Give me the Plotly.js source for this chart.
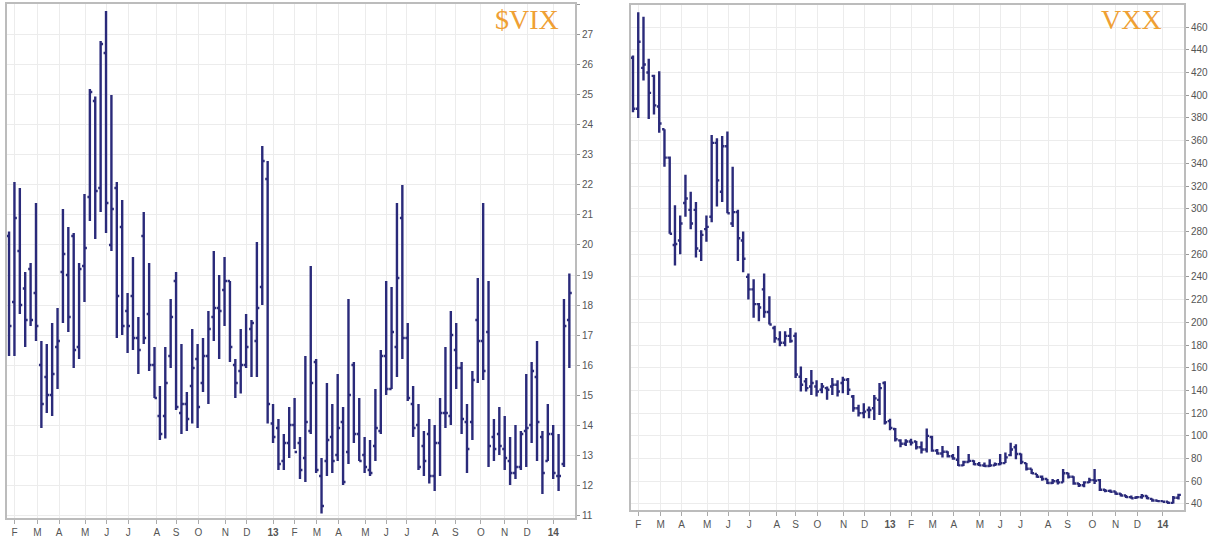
<!DOCTYPE html>
<html>
<head>
<meta charset="utf-8">
<script src="https://cdn.plot.ly/plotly-3.0.1.min.js"></script>
<style>
  html, body { margin: 0; padding: 0; background: #fff; }
  #chart { width: 1211px; height: 540px; }
</style>
</head>
<body>
<div id="chart"></div>
<script>
// Weekly bars (week ending Friday)
const weeks = [
  "2012-02-03","2012-02-10","2012-02-17","2012-02-24","2012-03-02","2012-03-09","2012-03-16","2012-03-23","2012-03-30",
  "2012-04-06","2012-04-13","2012-04-20","2012-04-27","2012-05-04","2012-05-11","2012-05-18","2012-05-25",
  "2012-06-01","2012-06-08","2012-06-15","2012-06-22","2012-06-29","2012-07-06","2012-07-13","2012-07-20","2012-07-27",
  "2012-08-03","2012-08-10","2012-08-17","2012-08-24","2012-08-31","2012-09-07","2012-09-14","2012-09-21","2012-09-28",
  "2012-10-05","2012-10-12","2012-10-19","2012-10-26","2012-11-02","2012-11-09","2012-11-16","2012-11-23","2012-11-30",
  "2012-12-07","2012-12-14","2012-12-21","2012-12-28",
  "2013-01-04","2013-01-11","2013-01-18","2013-01-25","2013-02-01","2013-02-08","2013-02-15","2013-02-22",
  "2013-03-01","2013-03-08","2013-03-15","2013-03-22","2013-03-29","2013-04-05","2013-04-12","2013-04-19","2013-04-26",
  "2013-05-03","2013-05-10","2013-05-17","2013-05-24","2013-05-31","2013-06-07","2013-06-14","2013-06-21","2013-06-28",
  "2013-07-05","2013-07-12","2013-07-19","2013-07-26","2013-08-02","2013-08-09","2013-08-16","2013-08-23","2013-08-30",
  "2013-09-06","2013-09-13","2013-09-20","2013-09-27","2013-10-04","2013-10-11","2013-10-18","2013-10-25",
  "2013-11-01","2013-11-08","2013-11-15","2013-11-22","2013-11-29","2013-12-06","2013-12-13","2013-12-20","2013-12-27",
  "2014-01-03","2014-01-10","2014-01-17","2014-01-24","2014-01-31"
];

// $VIX weekly OHLC
const vixOpen = [20.3,18.1,19.8,18.55,19.2,18.4,16.0,15.6,15.0,16.6,
  19.1,19.0,20.3,16.6,19.3,21.6,24.8,21.9,26.4,20.0,
  21.9,20.6,17.8,18.3,16.9,20.3,17.7,16.0,14.3,14.3,
  16.3,18.8,14.4,14.7,15.3,16.2,15.4,16.3,17.6,17.9,
  18.5,18.8,16.0,15.8,16.0,17.2,16.8,18.6,22.2,14.05,
  13.9,12.8,13.4,14.0,13.4,12.9,13.8,16.1,12.3,12.8,
  13.6,13.0,14.1,13.1,16.0,13.7,13.0,12.5,13.3,13.8,
  16.3,15.2,16.6,20.9,16.9,14.7,14.0,13.3,13.7,12.3,
  13.4,14.4,14.3,16.5,15.9,14.1,14.1,17.5,16.8,17.1,
  13.6,13.7,13.2,12.8,12.4,12.6,13.8,14.0,15.6,13.6,
  12.8,13.7,12.3,12.7,17.5];
const vixHigh = [20.45,22.1,21.9,19.1,19.4,21.4,16.8,16.7,17.4,17.9,
  21.2,20.6,20.4,19.4,21.7,25.2,24.95,26.8,27.8,25.0,
  22.1,21.5,18.4,19.6,17.6,21.1,19.4,16.6,15.3,16.6,
  18.2,19.1,16.7,15.1,17.2,16.7,16.9,17.8,19.8,19.0,
  19.6,18.8,16.2,17.2,17.7,17.5,20.1,23.3,22.8,14.7,
  14.2,13.7,14.6,14.9,13.6,16.3,19.3,16.2,12.9,15.4,
  14.7,15.7,14.6,18.2,16.1,14.9,13.6,13.5,15.2,16.5,
  18.8,18.6,21.4,22.0,17.4,15.3,14.7,13.8,14.2,14.0,
  14.9,16.6,17.8,17.4,16.1,14.7,15.8,18.9,21.4,18.8,
  14.2,14.6,14.3,13.6,14.0,13.8,15.7,16.1,16.8,13.8,
  14.7,14.0,13.7,18.2,19.05];
const vixLow = [16.3,16.3,17.7,16.6,17.3,16.8,13.9,14.4,14.3,15.2,
  17.4,17.1,15.9,16.2,18.1,20.8,20.2,21.1,20.4,19.8,
  16.9,17.0,16.4,16.5,15.7,16.7,15.8,14.9,13.5,13.55,
  15.9,14.5,13.7,13.8,14.05,13.9,15.1,14.7,16.8,16.2,
  17.3,16.1,14.9,15.05,15.9,15.6,15.6,18.0,14.05,13.4,
  12.5,12.5,12.9,13.2,12.2,12.1,13.7,12.4,11.05,12.3,
  12.4,12.8,12.0,12.7,13.4,12.8,12.4,12.3,12.8,13.7,
  15.0,15.2,15.6,16.2,14.8,13.6,12.5,12.3,12.05,11.8,
  12.3,13.9,14.0,15.2,13.7,12.4,13.5,15.4,15.5,12.6,
  12.8,13.0,12.5,12.0,12.2,12.5,12.6,13.4,12.8,11.7,
  12.8,12.2,11.8,12.6,15.9];
const vixClose = [17.3,20.9,18.0,17.5,17.5,17.3,14.7,15.0,15.7,16.8,
  19.7,17.6,16.5,19.2,19.9,25.1,21.8,26.7,21.4,21.2,
  18.3,17.3,17.3,16.9,16.5,16.9,16.0,14.9,13.7,15.4,
  17.6,14.6,14.7,14.2,15.9,14.6,16.3,17.2,17.9,17.8,
  18.8,16.6,15.4,16.0,16.6,17.4,17.9,22.8,14.7,13.6,
  12.7,13.4,14.0,13.1,12.5,14.1,15.4,12.5,11.3,13.5,
  12.8,13.9,12.1,15.0,13.7,12.8,12.6,12.4,13.9,16.3,
  15.2,17.1,18.9,16.9,14.9,13.9,12.6,12.8,12.3,13.4,
  14.4,14.4,17.0,15.9,14.2,13.2,15.5,16.8,15.8,13.3,
  13.2,13.3,12.9,12.4,12.6,13.7,13.9,15.8,14.1,12.4,
  13.7,12.4,12.3,17.3,18.4];

// VXX weekly OHLC
const vxxOpen = [433,388,424,420,417,390,370,345,268,272,
  305,299,299,263,282,293,358,315,355,287,
  297,272,240,229,216,229,209,195,185,182,
  188,188,152,148,143.5,143.5,140.6,142,143.5,145,
  146.5,149.4,134.6,124.3,120,122.8,124.3,131.7,146.5,113,
  106,96,93,95,95,90,88,99,87,84.5,
  86,82,79,74,77,78,75,74,73.5,74,
  75,76,83,90,84,76,71,66.5,64,62,
  58.5,60,59,67,64,58,56.5,59,61,61,
  52.5,51.5,51,49,47.5,46,45.5,46,47,44.5,
  43,42.5,42,41,45.5];
const vxxHigh = [435,473,469,432,418,421,370,346,303,294,
  330,315,306,281,294,365,362,364,368,337,
  299,280,243,238,217,243,223,197,192,192,
  195,191,161,151,158,149,146.5,143.5,151,149,
  152,151,136,127.3,128.7,125.8,136,146.5,148,115,
  107,97,97,97.5,95.5,95,106.4,100,88.5,91,
  86.5,84,91,78,84,78.5,77,76.5,79.5,76.5,
  84,85.4,94,92.7,84.5,76,71,66.5,65,62,
  62,62,70.7,67.5,64.5,58.5,60,63,70.7,62,
  53.2,52.8,51.2,49.5,47.8,47.5,47,48.8,47.4,44.8,
  43.5,43,42.5,47,49];
const vxxLow = [385,380,413,379,383,367,337,278,250,260,
  293,282,257,254,271,288,302,306,296,284,
  254,244,220,204,201,204,198,182,179,179,
  182,151,139,139,136,134.6,137.6,131.7,136,134.6,
  137.6,136,121.3,117,115.4,115.4,114,118.4,110,105,
  95,90,91,91.5,88,84.5,85.4,86,83.5,81,
  81,79,73.5,73.5,76.5,74,73.5,72.5,72.5,73.5,
  74,76,82,79.5,75,69.5,66.3,63,60.5,57.6,
  57.5,57.2,59,62.5,57,55,54.8,58.5,57.6,51.5,
  50.3,50.2,48.2,46.5,45.2,44.5,44.6,44.6,44.2,42,
  41.8,41.5,40,40.5,44];
const vxxClose = [388,447,427,402,391,375,345,278,269,287,
  309,287,265,277,284,358,325,355,296,297,
  274,256,229,216,213,209,198,186,182,188,
  183.5,154,145,142,146.5,139,143.5,140.6,145,139,
  149.4,140.6,124.3,120,121.3,122.8,133,142,112,107,
  97,93,95,94,90,88,100,87,84.5,86,
  82,80,74,77,78,75,74,73.5,74,75,
  76,81,88,84,77,71,67,64,62,58.5,
  60,59,67,64,58,56.5,59,61,60.5,52.5,
  51.5,50.8,49,47.5,46,45,46,47,45,43,
  42.5,42,41,45.5,48];

// Month tick labels
const tickDates = ["2012-02-10","2012-03-11","2012-04-08","2012-05-12","2012-06-09","2012-07-07","2012-08-13",
  "2012-09-07","2012-10-06","2012-11-10","2012-12-08","2013-01-11","2013-02-08","2013-03-09","2013-04-06",
  "2013-05-11","2013-06-07","2013-07-04","2013-08-10","2013-09-05","2013-10-08","2013-11-08","2013-12-07","2014-01-10"];
const tickLabels = ["F","M","A","M","J","J","A","S","O","N","D","<b>13</b>","F","M","A","M","J","J","A","S","O","N","D","<b>14</b>"];

const barColor = "#2a2a7a";
const gridColor = "#ececec";
const frameColor = "#bcbcbc";
const tickFont = {family: "Liberation Sans, Arial, sans-serif", size: 10, color: "#555"};
const xRange = ["2012-01-31 08:00", "2014-02-07 08:00"];

function bars(o, h, l, c, xa, ya) {
  return {
    type: "ohlc", x: weeks, open: o, high: h, low: l, close: c,
    xaxis: xa, yaxis: ya, tickwidth: 0.45,
    increasing: {line: {color: barColor, width: 2.4}},
    decreasing: {line: {color: barColor, width: 2.4}},
    hoverinfo: "skip", showlegend: false
  };
}

function xAxis(domain, anchor) {
  return {
    domain: domain, anchor: anchor, type: "date", range: xRange,
    tickmode: "array", tickvals: tickDates, ticktext: tickLabels,
    showgrid: true, gridcolor: gridColor, gridwidth: 1,
    ticks: "outside", ticklen: 4, tickcolor: "#aaa",
    tickfont: tickFont, showline: true, mirror: true,
    linecolor: frameColor, linewidth: 2, zeroline: false,
    rangeslider: {visible: false}, fixedrange: true
  };
}

function yAxis(domain, anchor, range, dtick, tick0) {
  return {
    domain: domain, anchor: anchor, range: range, side: "right",
    tick0: tick0, dtick: dtick, showgrid: true, gridcolor: gridColor, gridwidth: 1,
    ticks: "outside", ticklen: 3, tickcolor: "#999",
    tickfont: tickFont, showline: true, mirror: true,
    linecolor: frameColor, linewidth: 2, zeroline: false, fixedrange: true
  };
}

const data = [
  bars(vixOpen, vixHigh, vixLow, vixClose, "x", "y"),
  bars(vxxOpen, vxxHigh, vxxLow, vxxClose, "x2", "y2")
];

const layout = {
  width: 1211, height: 540,
  margin: {l: 0, r: 0, t: 0, b: 0},
  paper_bgcolor: "#fff", plot_bgcolor: "#fff",
  showlegend: false,
  xaxis: xAxis([7/1211, 575/1211], "y"),
  yaxis: yAxis([1 - 518/540, 1 - 4/540], "x", [10.9, 28.033], 1, 11),
  xaxis2: xAxis([631/1211, 1184/1211], "y2"),
  yaxis2: yAxis([1 - 510/540, 1 - 5/540], "x2", [34.7, 479.4], 20, 40),
  annotations: [
    {text: "$VIX", xref: "paper", yref: "paper", x: 561/1211, y: 1 - 20/540,
     xanchor: "right", yanchor: "middle", showarrow: false,
     font: {family: "Liberation Serif, Times New Roman, serif", size: 28, color: "#EFA034"}},
    {text: "VXX", xref: "paper", yref: "paper", x: 1164/1211, y: 1 - 20/540,
     xanchor: "right", yanchor: "middle", showarrow: false,
     font: {family: "Liberation Serif, Times New Roman, serif", size: 28, color: "#EFA034"}}
  ]
};

Plotly.newPlot("chart", data, layout, {displayModeBar: false, staticPlot: true});
</script>
</body>
</html>
